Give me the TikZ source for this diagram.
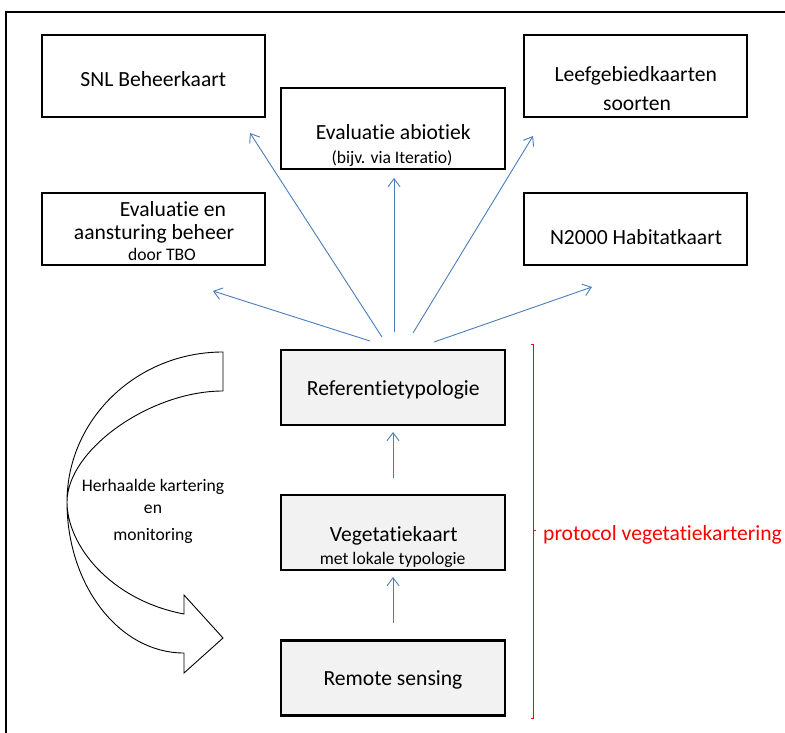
\documentclass[tikz,border=0pt]{standalone}
\usepackage{fontspec}
\setmainfont{Carlito}[Ligatures=NoCommon]
\usetikzlibrary{arrows.meta}
\definecolor{arrowblue}{RGB}{74,126,187}
\definecolor{boxgray}{RGB}{242,242,242}
\begin{document}
\begin{tikzpicture}[x=1pt,y=-1pt,
  box/.style={draw=black, line width=2.2pt, inner sep=0pt, outer sep=0pt},
  graybox/.style={box, fill=boxgray},
  big/.style={font=\fontsize{21.6}{26}\selectfont, inner sep=0pt, anchor=base},
  small/.style={font=\fontsize{17.6}{21}\selectfont, inner sep=0pt, anchor=base},
  link/.style={draw=arrowblue, line width=0.9pt, -{Straight Barb[length=8pt,width=12pt]}},
  frameline/.style={line width=2pt},
  loopshape/.style={draw=black, fill=white, line width=0.9pt, line join=miter},
  bracket/.style={draw=red, line width=1pt}]
\useasboundingbox (0,0) rectangle (785,733);
\fill[white] (0,0) rectangle (785,733);

% outer frame
\draw[frameline] (6,733) -- (6,12) -- (785,12);

% boxes
\node[box, minimum width=223pt, minimum height=82pt] (snl) at (153.5,76) {};
\node[box, minimum width=223pt, minimum height=72pt] (evb) at (153.5,229) {};
\node[box, minimum width=224pt, minimum height=81pt] (abio) at (393,128.5) {};
\node[box, minimum width=223pt, minimum height=82pt] (leef) at (635.5,76) {};
\node[box, minimum width=223pt, minimum height=72pt] (n2k) at (635.5,229) {};
\node[graybox, minimum width=224pt, minimum height=75pt] (ref) at (393,387.5) {};
\node[graybox, minimum width=224pt, minimum height=75pt] (veg) at (393,532.5) {};
\node[graybox, minimum width=224pt, minimum height=75pt] (rs) at (393,678) {};

% texts
\node[big] (snlT) at (153.3,86.7) {SNL Beheerkaart};
\node[big] (evbT1) at (173,216.7) {Evaluatie en};
\node[big] (evbT2) at (154,240) {aansturing beheer};
\node[small] (evbT3) at (162,260) {door TBO};
\node[big] (abioT1) at (393.3,140) {Evaluatie abiotiek};
\node[small] (abioT2) at (392,164) {(bijv. via Iteratio)};
\node[big] (leefT1) at (635.7,81.7) {Leefgebiedkaarten};
\node[big] (leefT2) at (637,110.7) {soorten};
\node[big] (n2kT) at (636,244) {N2000 Habitatkaart};
\node[big] (refT) at (393.3,395) {Referentietypologie};
\node[big] (vegT1) at (393.7,541.7) {Vegetatiekaart};
\node[small] (vegT2) at (392.7,564) {met lokale typologie};
\node[big] (rsT) at (393,685) {Remote sensing};

% fan of arrows
\coordinate (s1) at (370,341); \coordinate (e1) at (213,291);
\coordinate (s2) at (382,337); \coordinate (e2) at (250,133);
\coordinate (s3) at (394,332); \coordinate (e3) at (394,178);
\coordinate (s4) at (413,333); \coordinate (e4) at (533,136);
\coordinate (s5) at (434,342); \coordinate (e5) at (592,287);
\draw[link] (s1) -- (e1);
\draw[link] (s2) -- (e2);
\draw[link] (s3) -- (e3);
\draw[link] (s4) -- (e4);
\draw[link] (s5) -- (e5);

% vertical arrows
\coordinate (v1s) at (393,478); \coordinate (v1e) at (393,432);
\coordinate (v2s) at (393,623); \coordinate (v2e) at (393,577);
\draw[link] (v1s) -- (v1e);
\draw[link] (v2s) -- (v2e);

% curved arrow
\draw[loopshape] (223,352) .. controls (137,352) and (67,419) .. (67,502)
  .. controls (67,585) and (119,653) .. (184,653) -- (184,673) -- (223,638)
  -- (184,595) -- (184,614) .. controls (110,600) and (67,545) .. (67,502)
  .. controls (67,450) and (150,391) .. (223,391) -- cycle;
\node[small] (loopT1) at (153,491.7) {Herhaalde kartering};
\node[small] (loopT2) at (153,513) {en};
\node[small] (loopT3) at (153,540) {monitoring};

% red bracket
\draw[bracket] (530.5,344) -- (533,344) -- (533,718) -- (530.5,718);
\draw[bracket] (533,530) -- (535.5,530);
\node[big, anchor=base west, text=red] (protT) at (543,540.7) {protocol vegetatiekartering};
\end{tikzpicture}
\end{document}
